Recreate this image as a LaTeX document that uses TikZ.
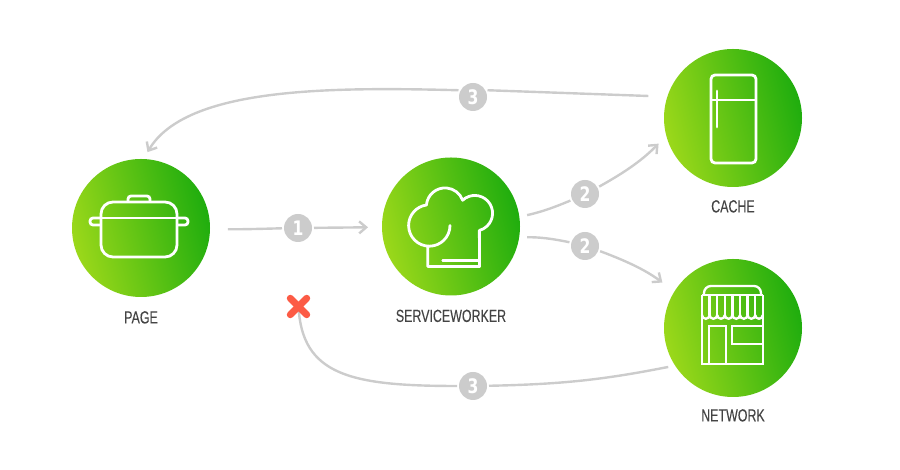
\documentclass[tikz,border=0pt]{standalone}
\usepackage{fontspec}
\usetikzlibrary{arrows.meta,positioning}
\newfontfamily\captionfont[FakeStretch=0.71,FakeBold=0.15]{Liberation Sans}
\newfontfamily\digitfont[FakeStretch=0.78]{DejaVu Sans}
\definecolor{hublight}{HTML}{9BD81A}
\definecolor{hubdark}{HTML}{1FAD0E}
\definecolor{linkgray}{HTML}{CCCCCC}
\definecolor{stopred}{HTML}{FC5B45}
\definecolor{captiongray}{HTML}{444444}
\tikzset{
    hub/.style={circle,minimum size=138pt,inner sep=0pt,outer sep=0pt,
        left color=hublight,right color=hubdark,shading angle=105},
    badge/.style={circle,fill=linkgray,text=white,minimum size=28pt,inner sep=0pt,outer sep=2pt,
        font=\digitfont\bfseries\fontsize{20}{22}\selectfont},
    caption/.style={text=captiongray,inner sep=0pt,
        font=\captionfont\fontsize{17.5}{20}\selectfont},
    link/.style={draw=linkgray,line width=2.4pt},
    tip/.style={-{Straight Barb[length=7pt,width=12pt,line width=2.4pt]}},
    icon/.style={draw=white,line width=2.8pt},
}
\begin{document}
\begin{tikzpicture}[x=1pt,y=1pt]
    \useasboundingbox (0,0) rectangle (900,470);
    % The hubs
    \node[hub] (page) at (141,242) {};
    \node[hub] (worker) at (451,243.5) {};
    \node[hub] (cache) at (733,352) {};
    \node[hub] (network) at (733,142) {};
    \node[caption,below=14pt of page] (pagelabel) {PAGE};
    \node[caption,below=14pt of worker] (workerlabel) {SERVICEWORKER};
    \node[caption,below=13pt of cache] (cachelabel) {CACHE};
    \node[caption,below=12pt of network] (networklabel) {NETWORK};
    % The badges
    \node[badge] (one) at (298,242) {1};
    \node[badge] (twoa) at (585,276) {2};
    \node[badge] (twob) at (585,224) {2};
    \node[badge] (threea) at (473,373) {3};
    \node[badge] (threeb) at (473,84) {3};
    \node[minimum size=16pt,inner sep=0pt] (stop) at (298.5,163.5) {};
    % The links
    \draw[link,shorten <=18pt] (page) to[bend right=1] (one);
    \draw[link,tip,shorten >=14pt] (one) -- (worker);
    \draw[link,shorten <=8pt] (worker.8) to[bend right=5] (twoa);
    \draw[link,tip,shorten >=11pt] (twoa) to[bend right=8] (cache.195);
    \draw[link,shorten <=8pt] (worker.-9) to[bend left=6] (twob);
    \draw[link,tip,shorten >=15pt] (twob) to[bend left=8] (network.148);
    \draw[link,shorten <=19pt] (cache.162) -- (threea.25);
    \draw[link,tip,shorten >=8pt] (threea.155) .. controls (330,383) and (186,383) .. (page.88);
    \draw[link,shorten <=7pt] (network.213) to[bend left=5] (threeb);
    \draw[link] (threeb) .. controls (350,84) and (302,95) .. (stop.center);
    \draw[stopred,line width=7pt,line cap=round] (stop.north west) -- (stop.south east);
    \draw[stopred,line width=7pt,line cap=round] (stop.north east) -- (stop.south west);
    % The pot
    \begin{scope}[shift={(page.center)}]
        \draw[icon,rounded corners=12pt] (-40,26) rectangle (36,-29);
        \draw[icon] (-40,10) -- (36,10);
        \draw[icon,rounded corners=3pt] (-40,10) -- (-51,10) -- (-51,3) -- (-40,3);
        \draw[icon,rounded corners=3pt] (36,10) -- (47,10) -- (47,3) -- (36,3);
        \draw[icon,rounded corners=3pt] (-13,26) -- (-13,32) -- (9,32) -- (9,26);
    \end{scope}
    % The hat
    \begin{scope}[shift={(worker.center)}]
        \draw[icon,line cap=round,line join=round] (-1,1)
            arc[start angle=0,end angle=-262,radius=20.7]
            arc[start angle=175,end angle=20,radius=18.7]
            arc[start angle=133,end angle=-75,radius=17.8]
            -- (28.5,-40) -- (-23.3,-40) -- (-23.3,-20);
        \draw[icon,line cap=round] (-8.3,-34) -- (28.5,-34);
    \end{scope}
    % The fridge
    \begin{scope}[shift={(cache.center)}]
        \draw[icon,rounded corners=4pt] (-22,43) rectangle (23,-45);
        \draw[icon] (-22,18) -- (23,18);
        \draw[icon,line cap=round] (-16,27) -- (-16,-9);
    \end{scope}
    % The shop
    \begin{scope}[shift={(network.center)},icon/.append style={line width=2.3pt}]
        \draw[icon,rounded corners=7pt] (-29,33) -- (-29,42) -- (28,42) -- (28,33);
        \draw[icon] (-31,33) -- (30,33);
        \draw[icon] (-31,33) -- (-31,-36) -- (30,-36) -- (30,33);
        \foreach \k in {1,...,7}
        \draw[icon] (-31+7.6*\k,33) -- (-31+7.6*\k,13);
        \foreach \k in {0,...,7}
        \draw[icon] (-31+7.6*\k,13) arc[start angle=180,end angle=360,radius=3.8];
        \draw[icon] (-24,-36) -- (-24,2) -- (-7,2) -- (-7,-36);
        \draw[icon] (30,2) -- (-1,2) -- (-1,-16) -- (30,-16);
    \end{scope}
\end{tikzpicture}
\end{document}
